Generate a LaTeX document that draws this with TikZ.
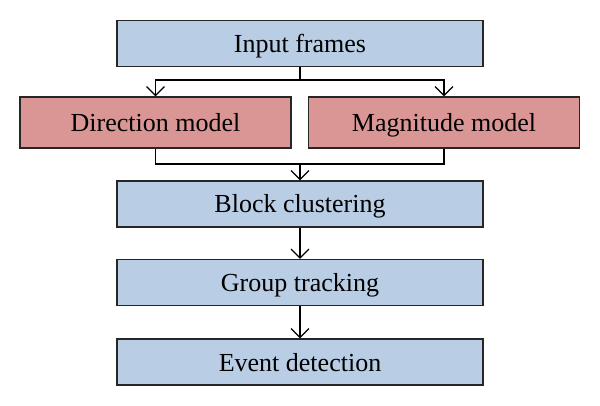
\documentclass[tikz,border=0pt]{standalone}
\usepackage{fontspec}
\setmainfont{Liberation Serif}
\usetikzlibrary{arrows.meta}
\definecolor{boxblue}{RGB}{185,205,229}
\definecolor{boxred}{RGB}{217,150,148}
\begin{document}
\begin{tikzpicture}[x=1pt,y=-1pt,line width=1.2pt,
  blk/.style={draw=black!85,fill=boxblue,minimum width=366pt,minimum height=46pt,inner sep=0pt,
    text height=18pt,text depth=0pt,font=\fontsize{26}{30}\selectfont},
  mdl/.style={blk,fill=boxred,minimum width=271pt,minimum height=51pt},
  arr/.style={-{Straight Barb[length=9pt,width=18pt]}}]
\useasboundingbox (0,0) rectangle (600,406);
\node[blk] (input) at (300,43.5) {Input frames};
\node[mdl] (dir) at (155.5,122.5) {Direction model};
\node[mdl] (mag) at (444,122.5) {Magnitude model};
\node[blk] (block) at (300,204) {Block clustering};
\node[blk] (group) at (300,282.5) {Group tracking};
\node[blk] (event) at (300,362) {Event detection};
\coordinate (split) at (300,80);
\coordinate (merge) at (300,164);
\draw (input) -- (split);
\draw[arr] (split) -| (dir);
\draw[arr] (split) -| (mag);
\draw (dir) |- (merge);
\draw (mag) |- (merge);
\draw[arr] (merge) -- (block);
\draw[arr] (block) -- (group);
\draw[arr] (group) -- (event);
\end{tikzpicture}
\end{document}
